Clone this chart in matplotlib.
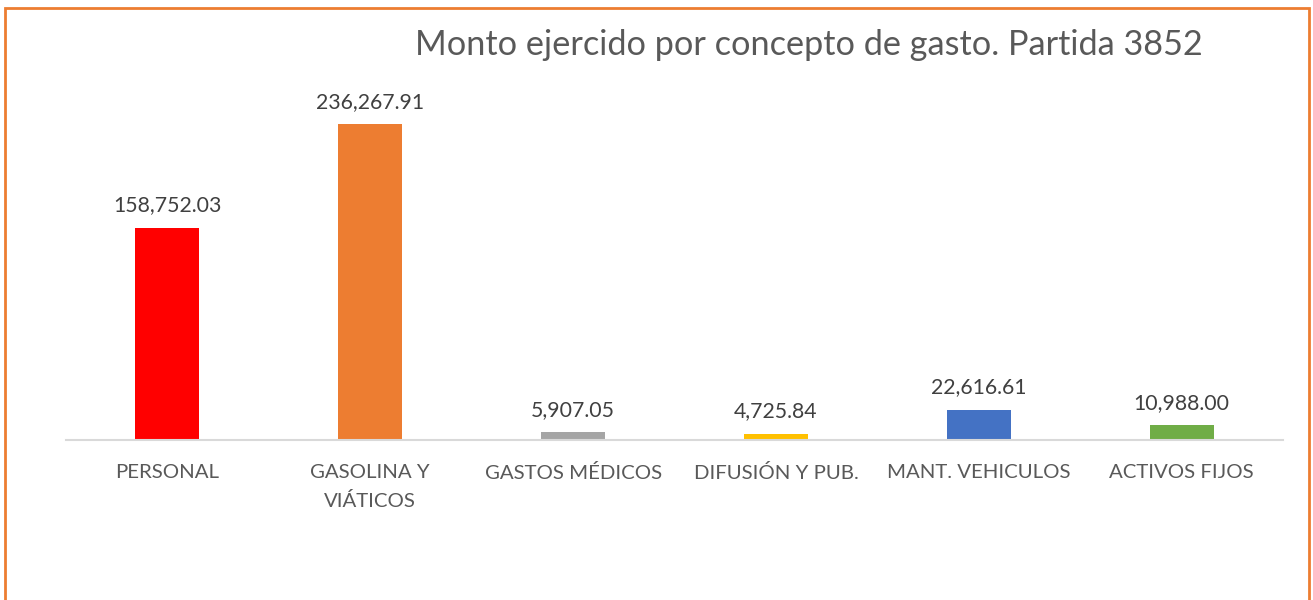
import matplotlib
matplotlib.use("Agg")
import matplotlib.pyplot as plt
from matplotlib.patches import Rectangle

categories = ["PERSONAL", "GASOLINA Y\nVIÁTICOS", "GASTOS MÉDICOS", "DIFUSIÓN Y PUB.",
              "MANT. VEHICULOS", "ACTIVOS FIJOS"]
values = [158752.03, 236267.91, 5907.05, 4725.84, 22616.61, 10988.00]
colors = ["#FF0000", "#ED7D31", "#A5A5A5", "#FFC000", "#4472C4", "#70AD47"]
title = "Monto ejercido por concepto de gasto. Partida 3852"

plt.rcParams['font.family'] = ['Lato', 'DejaVu Sans']
W, H = 1313, 600
fig = plt.figure(figsize=(W / 100, H / 100), dpi=100)
fig.patch.set_facecolor("white")

# orange border
fig.add_artist(Rectangle((5 / W, -0.05), (1309 - 5) / W, (600 - 8) / H + 0.05,
                         transform=fig.transFigure, fill=False, edgecolor="#ED7D31",
                         linewidth=2, clip_on=False))

ax = fig.add_axes([66 / W, (600 - 440) / H, (1283 - 66) / W, (440 - 106) / H])
x = range(len(categories))
bars = ax.bar(x, values, width=0.315, color=colors)
ax.set_xlim(-0.5, len(categories) - 0.5)
ax.set_ylim(0, 250000)

for b, v in zip(bars, values):
    ax.annotate(f"{v:,.2f}", (b.get_x() + b.get_width() / 2, v), xytext=(0, 9),
                textcoords="offset points", ha="center", va="bottom",
                fontsize=15.3, color="#404040")

ax.set_xticks(list(x))
ax.set_xticklabels(categories, fontsize=14.7, color="#595959", linespacing=1.75, va="top")
ax.tick_params(axis="x", length=0, pad=17)
ax.set_yticks([])
for s in ["top", "right", "left"]:
    ax.spines[s].set_visible(False)
ax.spines["bottom"].set_color("#D9D9D9")
ax.spines["bottom"].set_linewidth(1.5)

fig.text(809 / W, 1 - 45 / H, title, ha="center", va="center", fontsize=24.7, color="#595959")

fig.savefig("out.png", dpi=100)
